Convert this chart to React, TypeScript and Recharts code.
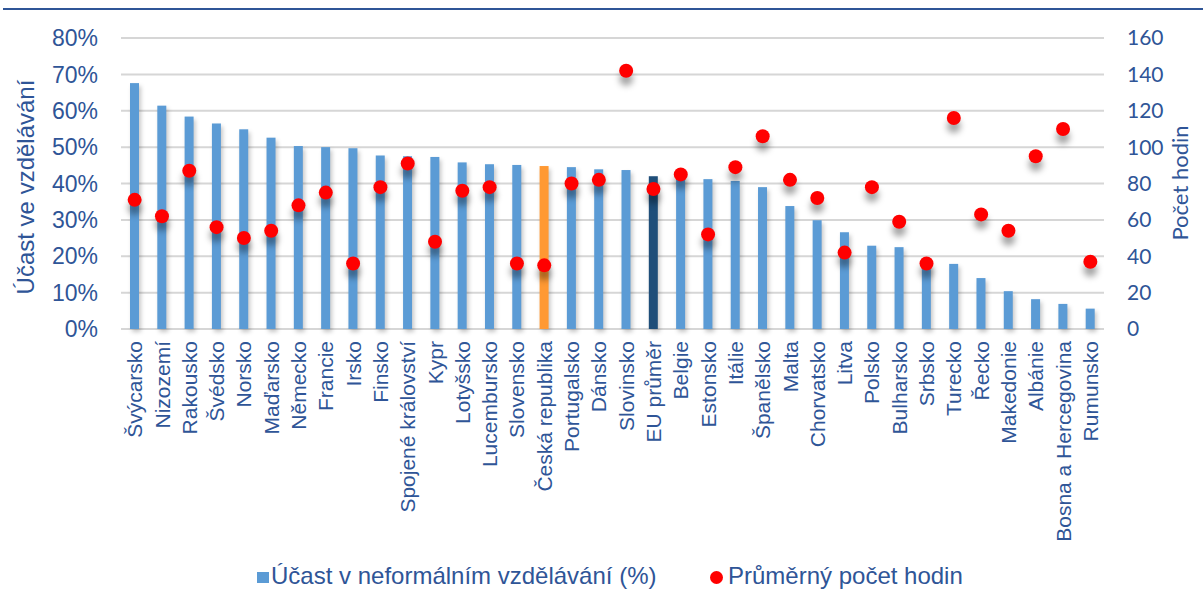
import { ComposedChart, Bar, Scatter, XAxis, YAxis, CartesianGrid } from 'recharts'

const categories = [
  'Švýcarsko', 'Nizozemí', 'Rakousko', 'Švédsko', 'Norsko', 'Maďarsko', 'Německo', 'Francie', 'Irsko',
  'Finsko', 'Spojené království', 'Kypr', 'Lotyšsko', 'Lucembursko', 'Slovensko', 'Česká republika',
  'Portugalsko', 'Dánsko', 'Slovinsko', 'EU průměr', 'Belgie', 'Estonsko', 'Itálie', 'Španělsko', 'Malta',
  'Chorvatsko', 'Litva', 'Polsko', 'Bulharsko', 'Srbsko', 'Turecko', 'Řecko', 'Makedonie', 'Albánie',
  'Bosna a Hercegovina', 'Rumunsko',
]

// účast v %
const participation = [
  67.6, 61.4, 58.4, 56.5, 54.9, 52.6, 50.3, 50.0, 49.7,
  47.7, 47.5, 47.3, 45.8, 45.3, 45.1, 44.8,
  44.5, 43.9, 43.7, 42.0, 41.6, 41.2, 40.7, 39.0, 33.8,
  29.9, 26.6, 22.9, 22.5, 17.6, 17.9, 14.0, 10.4, 8.2,
  6.9, 5.6,
]

// průměrný počet hodin
const hours = [
  71, 62, 87, 56, 50, 54, 68, 75, 36,
  78, 91, 48, 76, 78, 36, 35,
  80, 82, 142, 77, 85, 52, 89, 106, 82,
  72, 42, 78, 59, 36, 116, 63, 54, 95,
  110, 37,
]

const leftTicks = [0, 10, 20, 30, 40, 50, 60, 70, 80]
const rightTicks = [0, 20, 40, 60, 80, 100, 120, 140, 160]

const seriesNames = ['Účast v neformálním vzdělávání (%)', 'Průměrný počet hodin']

const data = categories.map((name, i) => ({ name, rate: participation[i], hours: hours[i] }))

const TEXT = '#2F5597'
const ARIAL = '"Liberation Sans", Arial, sans-serif'
const CALIBRI = 'Lato, "Open Sans", sans-serif'

const barColor = (name: string) =>
  name === 'Česká republika' ? '#FF9933' : name === 'EU průměr' ? '#1F4E79' : '#5B9BD5'

function BarShape(p: any) {
  if (!p.height) return null
  return (
    <rect
      x={p.x}
      y={p.y}
      width={p.width}
      height={p.height}
      fill={barColor(p.payload.name)}
      style={{ filter: 'drop-shadow(2px 3px 2px rgba(0,0,0,0.22))' }}
    />
  )
}

function DotShape(p: any) {
  return (
    <circle
      cx={p.cx}
      cy={p.cy}
      r={7}
      fill="#FF0000"
      style={{ filter: 'drop-shadow(0px 8px 3px rgba(0,0,0,0.35))' }}
    />
  )
}

function CategoryTick({ x, y, payload }: any) {
  return (
    <g transform={`translate(${x},${y})`}>
      <text
        transform="rotate(-90)"
        x={-4}
        y={0}
        dy="0.36em"
        textAnchor="end"
        fill={TEXT}
        fontSize={21}
        fontFamily={ARIAL}
      >
        {payload.value}
      </text>
    </g>
  )
}

export default function App() {
  return (
    <div style={{ position: 'absolute', left: 0, top: 0, width: 1203, height: 589, background: '#fff', overflow: 'hidden' }}>
      <div style={{ position: 'absolute', left: 3, top: 8, width: 1200, height: 2, background: '#2F5597' }} />
      <ComposedChart width={1203} height={589} data={data} margin={{ top: 38, right: 0, bottom: 0, left: 0 }}>
        <CartesianGrid yAxisId="left" vertical={false} stroke="#D6D6D6" strokeWidth={2} />
        <XAxis
          dataKey="name"
          height={260}
          interval={0}
          axisLine={false}
          tickLine={false}
          tick={<CategoryTick />}
        />
        <YAxis
          yAxisId="left"
          width={121}
          domain={[0, 80]}
          ticks={leftTicks}
          tickFormatter={(v: number) => `${v}%`}
          axisLine={false}
          tickLine={false}
          tickMargin={17}
          tick={{ fill: TEXT, fontSize: 23, fontFamily: ARIAL }}
          label={() => (
            <text
              transform={`translate(34,187) rotate(-90)`}
              textAnchor="middle"
              fill={TEXT}
              fontSize={24}
              fontFamily={ARIAL}
            >
              Účast ve vzdělávání
            </text>
          )}
        />
        <YAxis
          yAxisId="right"
          orientation="right"
          width={99}
          domain={[0, 160]}
          ticks={rightTicks}
          axisLine={false}
          tickLine={false}
          tickMargin={17}
          tick={{ fill: TEXT, fontSize: 21, fontFamily: CALIBRI }}
          label={() => (
            <text
              transform={`translate(1188,183) rotate(-90)`}
              textAnchor="middle"
              fill={TEXT}
              fontSize={22}
              fontFamily={CALIBRI}
            >
              Počet hodin
            </text>
          )}
        />
        <Bar
          yAxisId="left"
          dataKey="rate"
          name={seriesNames[0]}
          barSize={9}
          fill="#5B9BD5"
          shape={BarShape}
          isAnimationActive={false}
        />
        <Scatter
          yAxisId="right"
          dataKey="hours"
          name={seriesNames[1]}
          fill="#FF0000"
          shape={DotShape}
          isAnimationActive={false}
        />
      </ComposedChart>
      <div
        style={{
          position: 'absolute',
          left: 0,
          top: 564,
          width: 1203,
          height: 24,
          fontFamily: ARIAL,
          fontSize: 24,
          lineHeight: '24px',
          color: TEXT,
          whiteSpace: 'nowrap',
        }}
      >
        <span style={{ position: 'absolute', left: 257, top: 8, width: 12, height: 11, background: '#5B9BD5' }} />
        <span style={{ position: 'absolute', left: 271, top: 0 }}>{seriesNames[0]}</span>
        <span style={{ position: 'absolute', left: 710, top: 7, width: 13, height: 13, borderRadius: 7, background: '#FF0000' }} />
        <span style={{ position: 'absolute', left: 728, top: 0 }}>{seriesNames[1]}</span>
      </div>
    </div>
  )
}
